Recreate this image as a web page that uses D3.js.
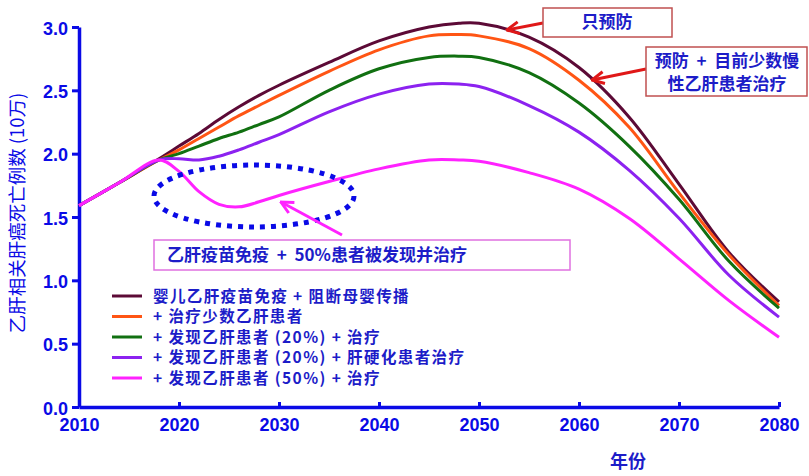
<!DOCTYPE html>
<html>
<head>
<meta charset="utf-8">
<script src="https://cdn.jsdelivr.net/npm/d3@7"></script>
<style>
  body { margin: 0; background: #fff; }
  svg text { font-family: "Liberation Sans", "Noto Sans CJK SC", sans-serif; }
  .cjk { font-family: "Noto Sans CJK SC", "Liberation Sans", sans-serif; }
</style>
</head>
<body>
<svg id="vis" width="809" height="476"></svg>
<script>
// years
const years = [2010, 2014, 2018, 2020, 2022, 2024, 2026, 2028, 2030, 2035, 2040, 2045, 2048, 2050, 2055, 2060, 2065, 2070, 2075, 2080];

// deaths (x 100k) per scenario
const onlyVaccine = [1.59, 1.77, 1.96, 2.06, 2.16, 2.27, 2.37, 2.46, 2.54, 2.72, 2.89, 3.00, 3.03, 3.03, 2.92, 2.68, 2.29, 1.76, 1.22, 0.83];
const treatFew    = [1.59, 1.77, 1.95, 2.03, 2.12, 2.21, 2.30, 2.38, 2.46, 2.65, 2.82, 2.93, 2.94, 2.93, 2.83, 2.58, 2.21, 1.69, 1.20, 0.80];
const find20      = [1.59, 1.77, 1.95, 2.00, 2.06, 2.12, 2.17, 2.23, 2.29, 2.50, 2.67, 2.76, 2.77, 2.76, 2.64, 2.40, 2.06, 1.64, 1.15, 0.78];
const find20Cirr  = [1.59, 1.77, 1.95, 1.96, 1.95, 1.98, 2.03, 2.09, 2.15, 2.33, 2.47, 2.55, 2.55, 2.53, 2.38, 2.17, 1.87, 1.49, 1.04, 0.71];
const find50      = [1.59, 1.77, 1.95, 1.86, 1.70, 1.60, 1.58, 1.62, 1.67, 1.78, 1.88, 1.95, 1.95, 1.94, 1.85, 1.72, 1.49, 1.17, 0.84, 0.55];

const seriesNames = [
  "婴儿乙肝疫苗免疫 + 阻断母婴传播",
  "+ 治疗少数乙肝患者",
  "+ 发现乙肝患者 (20%) + 治疗",
  "+ 发现乙肝患者 (20%) + 肝硬化患者治疗",
  "+ 发现乙肝患者 (50%) + 治疗"
];
const seriesColors = ["#5c0a36", "#ff5514", "#117011", "#8c22f0", "#ff22ff"];
const seriesValues = [onlyVaccine, treatFew, find20, find20Cirr, find50];

const xTicks = [2010, 2020, 2030, 2040, 2050, 2060, 2070, 2080];
const yTicks = [0, 0.5, 1.0, 1.5, 2.0, 2.5, 3.0];

const blue = "#0a0ae6";
const textBlue = "#1c1cc8";

const svg = d3.select("svg#vis");
const margin = {top: 27, right: 30, bottom: 69, left: 79};
const width = 809 - margin.left - margin.right;
const height = 476 - margin.top - margin.bottom;

const x = d3.scaleLinear().domain([2010, 2080]).range([margin.left, margin.left + width]);
const y = d3.scaleLinear().domain([0, 3]).range([margin.top + height, margin.top]);

// axes
const xAxis = svg.append("g")
  .attr("transform", "translate(0," + (margin.top + height) + ")")
  .call(d3.axisBottom(x).tickValues(xTicks).tickFormat(d3.format("d")).tickSizeInner(-5).tickSizeOuter(0).tickPadding(11));

const yAxis = svg.append("g")
  .attr("transform", "translate(" + margin.left + ",0)")
  .call(d3.axisLeft(y).tickValues(yTicks).tickFormat(d3.format(".1f")).tickSizeInner(7).tickSizeOuter(0).tickPadding(4));

[xAxis, yAxis].forEach(function(a) {
  a.select(".domain").attr("stroke", blue).attr("stroke-width", 3.5);
  a.selectAll(".tick line").attr("stroke", blue).attr("stroke-width", 3);
  a.selectAll(".tick text")
    .attr("fill", blue)
    .style("font-size", "18px")
    .style("font-weight", "bold");
});
yAxis.selectAll(".tick text").attr("dy", "0.4em");

// axis titles
svg.append("text")
  .attr("class", "cjk")
  .attr("transform", "translate(24," + (margin.top + height / 2 - 4) + ") rotate(-90)")
  .attr("text-anchor", "middle")
  .attr("fill", blue)
  .style("font-size", "18.5px")
  .text("乙肝相关肝癌死亡例数 (10万)");

svg.append("text")
  .attr("class", "cjk")
  .attr("x", 628)
  .attr("y", 468)
  .attr("text-anchor", "middle")
  .attr("fill", textBlue)
  .style("font-size", "18px")
  .style("font-weight", "bold")
  .text("年份");

// lines
const line = d3.line()
  .x((d, i) => x(years[i]))
  .y(d => y(d))
  .curve(d3.curveCatmullRom.alpha(0.5));

svg.append("g").selectAll("path.series")
  .data(seriesValues)
  .enter()
  .append("path")
  .attr("class", "series")
  .attr("d", line)
  .attr("fill", "none")
  .attr("stroke", (d, i) => seriesColors[i])
  .attr("stroke-width", 3);

// legend
const legend = svg.append("g").attr("transform", "translate(112,296)");
const rows = legend.selectAll("g.row")
  .data(seriesNames)
  .enter()
  .append("g")
  .attr("class", "row")
  .attr("transform", (d, i) => "translate(0," + (i * 20.5) + ")");
rows.append("line")
  .attr("x1", 0).attr("x2", 30)
  .attr("stroke", (d, i) => seriesColors[i])
  .attr("stroke-width", 3);
rows.append("text")
  .attr("class", "cjk")
  .attr("x", 41)
  .attr("dy", "0.36em")
  .attr("fill", textBlue)
  .style("font-size", "15.5px")
  .style("letter-spacing", "1.4px")
  .style("font-weight", "bold")
  .text(d => d);

// annotations
const defs = svg.append("defs");
function marker(id, color) {
  defs.append("marker")
    .attr("id", id)
    .attr("viewBox", "0 0 10 10")
    .attr("refX", 1).attr("refY", 5)
    .attr("markerWidth", 5).attr("markerHeight", 5)
    .attr("orient", "auto")
    .append("path")
    .attr("d", "M9,1 L1,5 L9,9")
    .attr("fill", "none")
    .attr("stroke", color)
    .attr("stroke-width", 2);
}
marker("arrowRed", "#e01818");
marker("arrowPink", "#ff22ff");

function arrow(x1, y1, x2, y2, color, id) {
  svg.append("line")
    .attr("x1", x1).attr("y1", y1).attr("x2", x2).attr("y2", y2)
    .attr("stroke", color)
    .attr("stroke-width", 3)
    .attr("marker-start", "url(#" + id + ")");
}

function box(x0, y0, w, h, stroke, lines, cx, firstY, lineH, anchor) {
  svg.append("rect")
    .attr("x", x0).attr("y", y0).attr("width", w).attr("height", h)
    .attr("fill", "#fff")
    .attr("stroke", stroke)
    .attr("stroke-width", 1.5);
  lines.forEach(function(t, i) {
    svg.append("text")
      .attr("class", "cjk")
      .attr("x", cx)
      .attr("y", firstY + i * lineH)
      .attr("text-anchor", anchor)
      .attr("dy", "0.36em")
      .attr("fill", textBlue)
      .style("font-size", "17px")
      .style("font-weight", "bold")
      .style("white-space", "pre")
      .text(t);
  });
}

arrow(507, 30, 543, 23, "#e01818", "arrowRed");
box(543, 8, 129, 29, "#c05050", ["只预防"], 607, 22, 0, "middle");

arrow(592, 80, 646, 69, "#e01818", "arrowRed");
box(646, 47, 161, 49, "#c05050", ["预防  +  目前少数慢", "性乙肝患者治疗"], 727, 61, 23, "middle");

svg.append("ellipse")
  .attr("cx", 254).attr("cy", 196)
  .attr("rx", 100).attr("ry", 31)
  .attr("fill", "none")
  .attr("stroke", "#0a0ae6")
  .attr("stroke-width", 5)
  .attr("stroke-dasharray", "5,6");

arrow(281, 202, 342, 235, "#ff22ff", "arrowPink");
box(154, 240, 416, 30, "#e070e0", ["乙肝疫苗免疫  +  50%患者被发现并治疗"], 167, 255, 0, "start");
</script>
</body>
</html>
